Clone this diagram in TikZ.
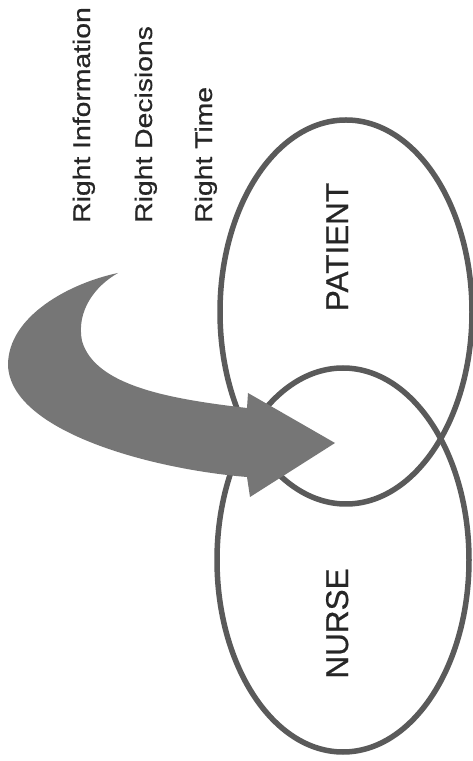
\documentclass[tikz,border=0pt]{standalone}
\usepackage{fontspec}
\setmainfont{Liberation Sans}[FakeBold=0.6]
\usetikzlibrary{shapes.geometric}
\definecolor{ringgray}{HTML}{5A5A5A}
\definecolor{arrowgray}{HTML}{767676}
\definecolor{textgray}{HTML}{262626}
\begin{document}
\begin{tikzpicture}[x=1pt,y=1pt,
  ring/.style={draw=ringgray, line width=5.5pt, ellipse, minimum width=252pt, minimum height=384pt, inner sep=0pt, outer sep=0pt},
  bigarrow/.style={fill=arrowgray, draw=none},
  sidetext/.style={text=textgray, rotate=90, anchor=base west, inner sep=0pt, font=\fontsize{24}{28}\selectfont},
  nametext/.style={text=textgray, rotate=90, anchor=base, inner sep=0pt, font=\fontsize{31.5}{36}\selectfont}]
\fill[white] (0,0) rectangle (472,761);
\useasboundingbox (0,0) rectangle (472,761);
% ellipses
\node[ring] (patient) at (346,449) {};
\node[ring] (nurse) at (343,201) {};
% names
\node[nametext] (patientlbl) at (348,514) {PATIENT};
\node[nametext] (nurselbl) at (348,137.5) {NURSE};
% side texts
\node[sidetext] (info) at (90,538) {\scalebox{1.18}[1]{Right Information}};
\node[sidetext] (dec) at (152,538) {\scalebox{1.18}[1]{Right Decisions}};
\node[sidetext] (time) at (212,538) {\scalebox{1.18}[1]{Right Time}};
% curved arrow
\fill[bigarrow] (118,488) .. controls (70,478) and (8,445) .. (8,396)
  .. controls (10,330) and (150,292) .. (247,284)
  -- (250,264) -- (335,318) -- (248,368) -- (247,353)
  .. controls (170,362) and (95,375) .. (82,420)
  .. controls (76,450) and (95,475) .. (118,488) -- cycle;
\end{tikzpicture}
\end{document}
